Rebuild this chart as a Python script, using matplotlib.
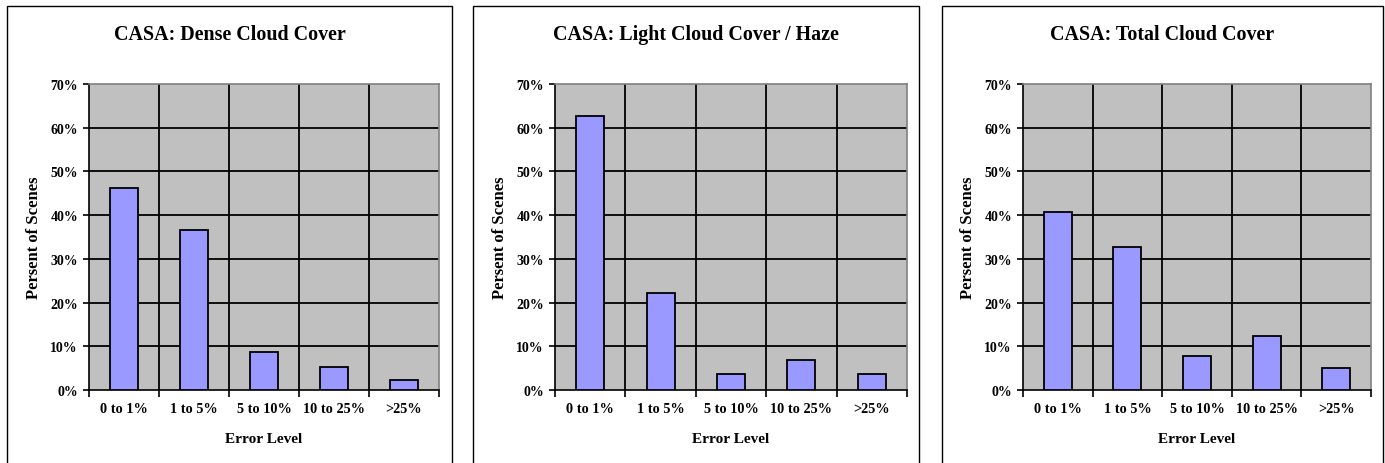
import matplotlib
matplotlib.use("Agg")
import matplotlib.pyplot as plt
from matplotlib.patches import Rectangle
from matplotlib.ticker import FixedLocator, FuncFormatter

categories = ["0 to 1%", "1 to 5%", "5 to 10%", "10 to 25%", ">25%"]
dense = [46.1, 36.7, 8.8, 5.3, 2.4]
light = [62.6, 22.3, 3.6, 6.8, 3.6]
total = [40.7, 32.8, 7.8, 12.3, 5.0]
titles = ["CASA: Dense Cloud Cover", "CASA: Light Cloud Cover / Haze", "CASA: Total Cloud Cover"]
series = [dense, light, total]
y_ticks = [0, 10, 20, 30, 40, 50, 60, 70]

W, H = 1385, 464
fig = plt.figure(figsize=(W / 100, H / 100), dpi=100)
fig.patch.set_facecolor("white")
plt.rcParams["font.family"] = ["Liberation Serif", "DejaVu Serif"]

# pixel layout: (frame_left, frame_right, plot_left, plot_right)
layout = [(7, 452, 89, 439), (473, 919, 555, 907), (942, 1383, 1023, 1371)]
plot_top, plot_bottom = 85, 391

def fx(px):
    return px / W

def fy(py):
    return 1 - py / H

for (fl, fr, pl, pr), vals, title in zip(layout, series, titles):
    # panel frame
    fig.patches.append(Rectangle((fx(fl), fy(H + 20)), fx(fr) - fx(fl), fy(7) - fy(H + 20),
                                 transform=fig.transFigure, fill=False, edgecolor="black",
                                 linewidth=1.0, zorder=0))
    ax = fig.add_axes([fx(pl), fy(plot_bottom), fx(pr) - fx(pl), fy(plot_top) - fy(plot_bottom)])
    ax.set_facecolor("#C0C0C0")
    x = list(range(len(categories)))
    ax.bar(x, vals, width=0.4, color="#9999FF", edgecolor="black", linewidth=1.3, zorder=3)
    ax.set_xlim(-0.5, len(categories) - 0.5)
    ax.set_ylim(0, 70)
    ax.yaxis.set_major_locator(FixedLocator(y_ticks))
    ax.yaxis.set_major_formatter(FuncFormatter(lambda v, p: f"{int(v)}%"))
    for yv in y_ticks[1:-1]:
        ax.axhline(yv, color="black", linewidth=1.3, zorder=1)
    for b in [0.5, 1.5, 2.5, 3.5]:
        ax.axvline(b, color="black", linewidth=1.3, zorder=1)
    ax.set_xticks([i - 0.5 for i in range(len(categories) + 1)])
    ax.set_xticklabels([])
    ax.set_xticks(x, minor=True)
    ax.set_xticklabels(categories, minor=True, fontsize=10.3, fontweight="bold")
    ax.tick_params(axis="x", which="major", direction="out", length=5, width=1.2)
    ax.tick_params(axis="x", which="minor", length=0, pad=9)
    ax.tick_params(axis="y", direction="out", length=4, width=1.2, labelsize=10, pad=4)
    for lab in ax.get_yticklabels():
        lab.set_fontweight("bold")
    for s in ["top", "right"]:
        ax.spines[s].set_color("#808080")
        ax.spines[s].set_linewidth(1.2)
    for s in ["left", "bottom"]:
        ax.spines[s].set_color("black")
        ax.spines[s].set_linewidth(1.2)
    # texts
    fig.text(fx((fl + fr) / 2), fy(35), title, ha="center", va="center",
             fontsize=14.4, fontweight="bold")
    fig.text(fx((pl + pr) / 2), fy(440), "Error Level", ha="center", va="center",
             fontsize=11, fontweight="bold")
    fig.text(fx(pl - 55), fy((plot_top + plot_bottom) / 2), "Persent of Scenes", ha="center",
             va="center", rotation=90, fontsize=12, fontweight="bold")

fig.savefig("out.png", dpi=100, facecolor="white")
